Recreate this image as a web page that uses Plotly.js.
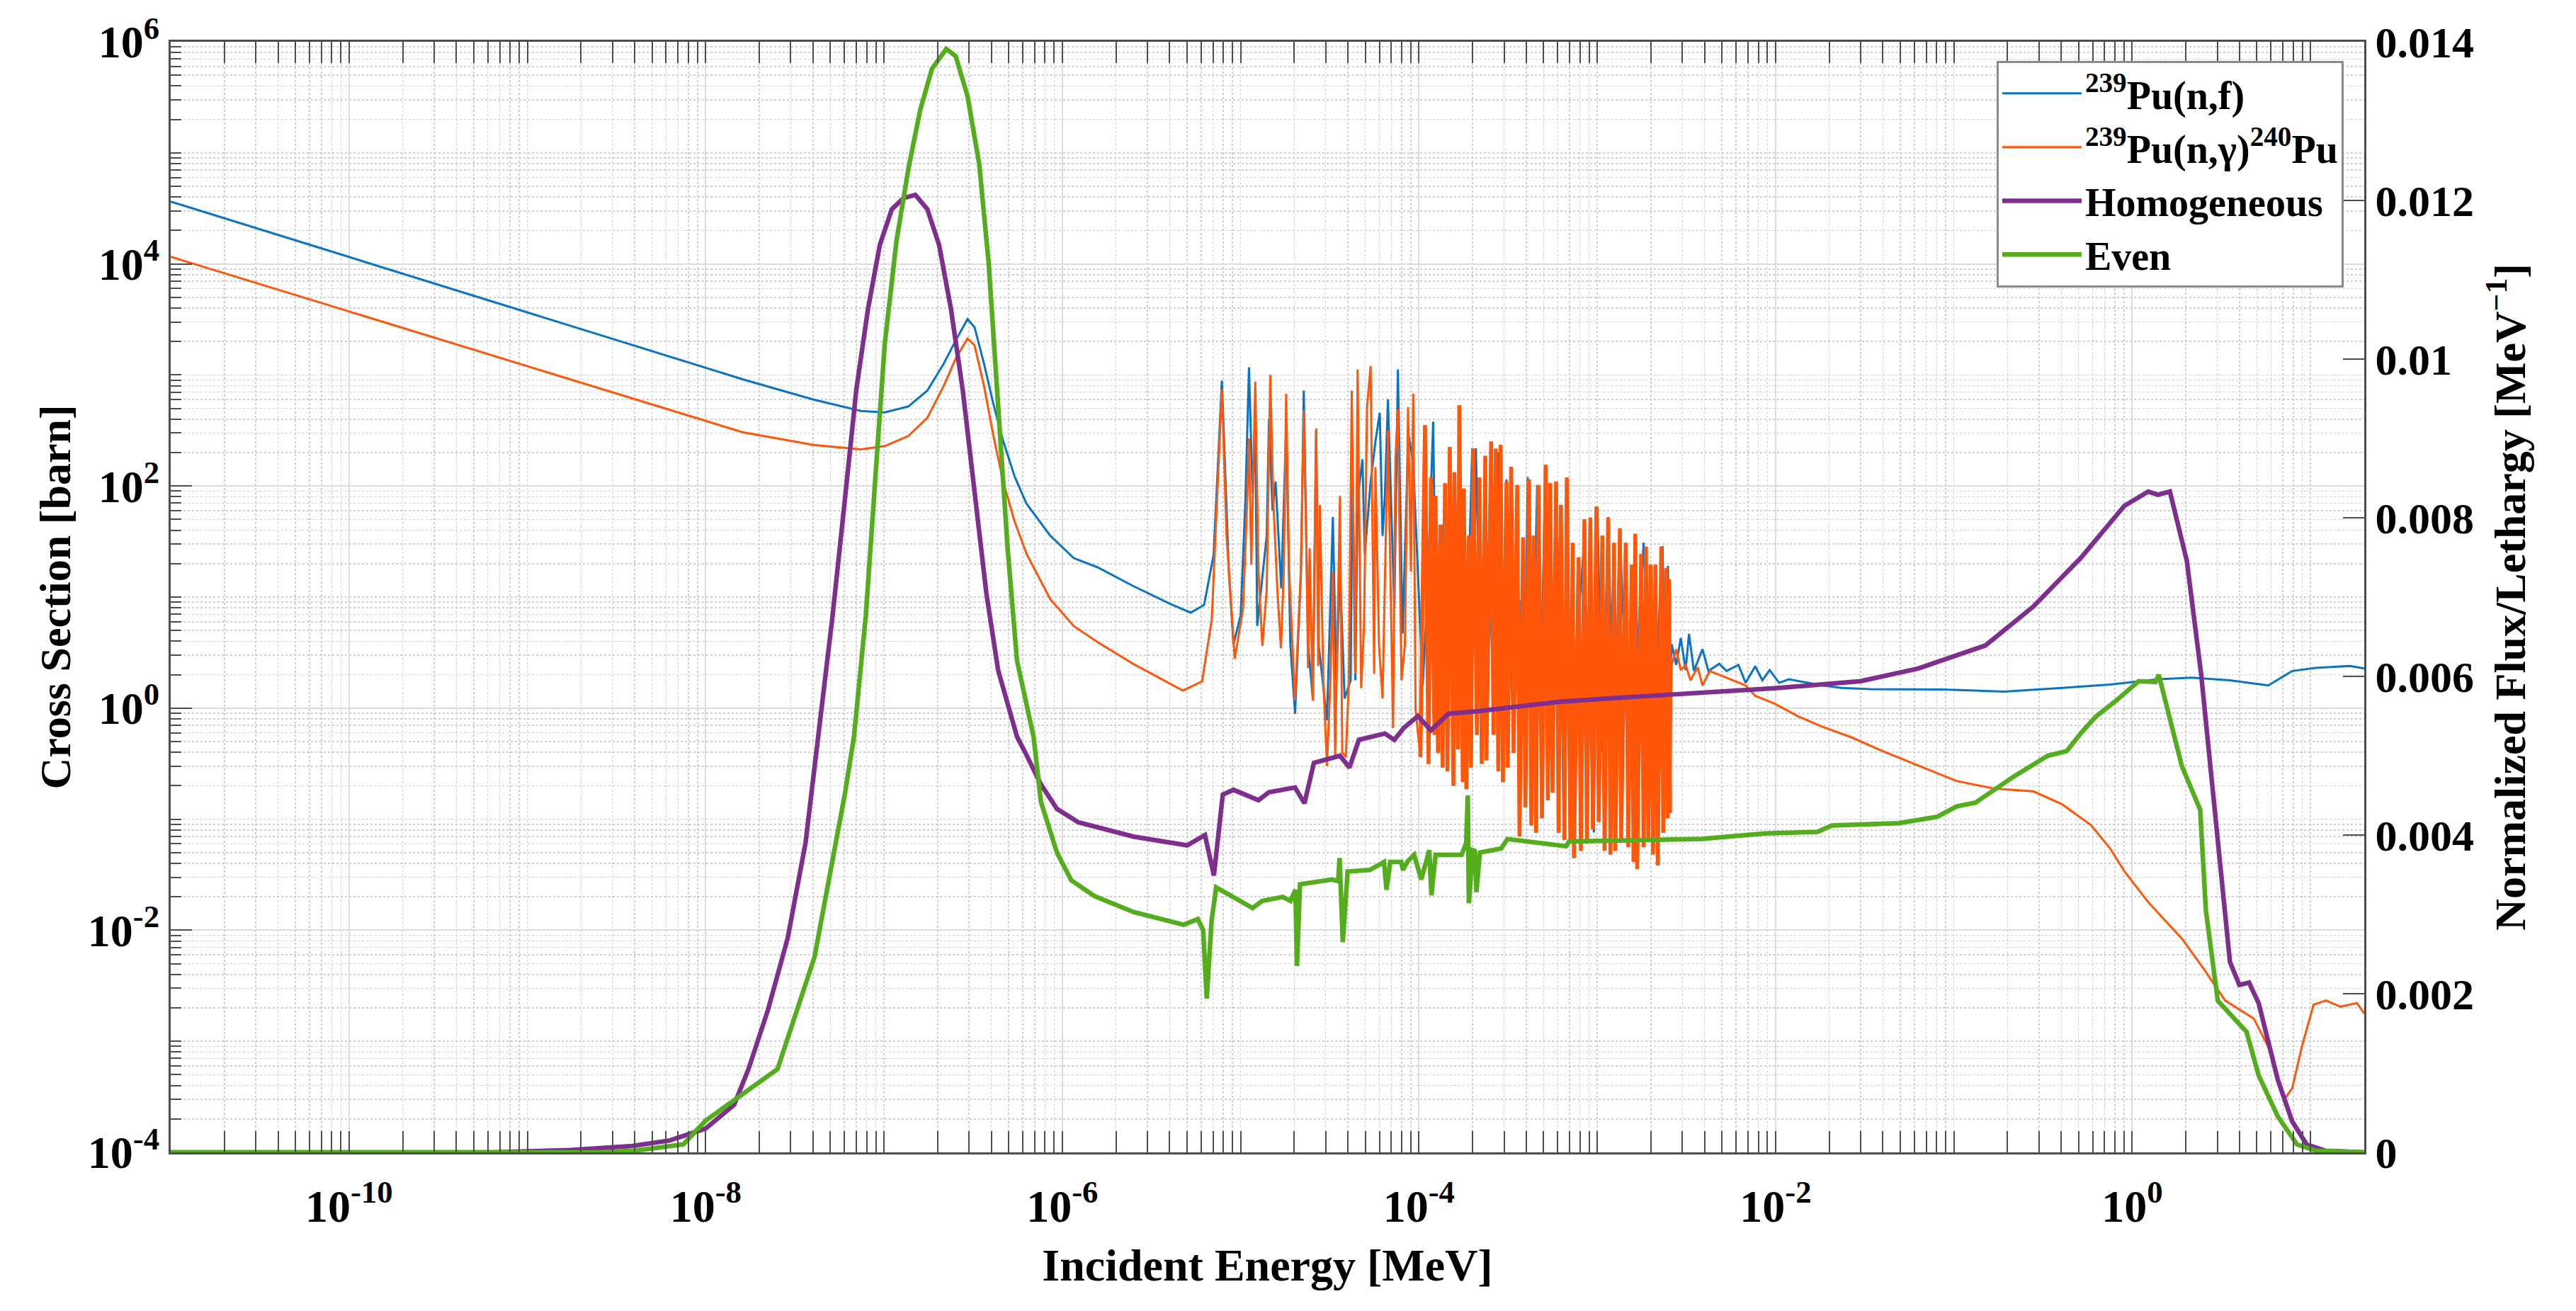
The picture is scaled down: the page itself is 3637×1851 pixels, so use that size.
<!DOCTYPE html>
<html>
<head>
<meta charset="utf-8">
<script src="https://cdn.plot.ly/plotly-3.0.1.min.js"></script>
<style>
html,body{margin:0;padding:0;background:#fff;}
#chart{width:3637px;height:1851px;}
</style>
</head>
<body>
<div id="chart"></div>
<script>
// ---------- 239Pu(n,f) cross section [barn] vs incident energy [MeV] ----------
const fisE = [
1e-11, 1.61e-8, 4.04e-8, 7.43e-8, 1.01e-7, 1.37e-7, 1.75e-7, 2.16e-7, 2.52e-7, 2.94e-7,
3.22e-7, 3.64e-7, 4.11e-7, 4.65e-7, 5.41e-7, 6.30e-7, 8.55e-7, 1.16e-6, 1.57e-6, 2.49e-6,
4.09e-6, 5.25e-6, 6.24e-6, 7.06e-6, 7.85e-6,
8.59e-6, 9.12e-6, 1.00e-5, 1.064e-5, 1.114e-5, 1.167e-5, 1.208e-5, 1.239e-5, 1.297e-5, 1.40e-5,
1.442e-5, 1.51e-5, 1.57e-5, 1.63e-5, 1.69e-5, 1.80e-5, 1.90e-5, 2.02e-5, 2.18e-5, 2.26e-5,
2.39e-5, 2.54e-5, 2.65e-5, 2.74e-5, 3.05e-5, 3.29e-5, 3.44e-5, 3.61e-5, 3.83e-5, 4.14e-5,
4.24e-5, 4.40e-5, 4.53e-5, 4.82e-5, 4.97e-5, 5.36e-5, 5.70e-5, 6.03e-5, 6.25e-5, 6.44e-5,
6.70e-5, 7.28e-5, 7.62e-5, 8.09e-5, 8.47e-5, 8.73e-5, 9.29e-5, 9.86e-5,
1.05e-4, 1.114e-4, 1.202e-4, 1.259e-4, 1.34e-4, 1.371e-4, 1.40e-4, 1.466e-4, 1.581e-4, 1.648e-4,
1.71e-4, 1.816e-4, 1.99e-4, 2.04e-4, 2.085e-4, 2.25e-4, 2.466e-4, 2.62e-4, 2.786e-4, 2.91e-4,
3.097e-4, 3.342e-4, 3.664e-4, 3.89e-4, 4.074e-4, 4.335e-4, 4.603e-4, 4.82e-4, 5.129e-4, 5.61e-4,
6.152e-4, 6.95e-4, 8.356e-4, 8.87e-4, 9.57e-4, 1.002e-3, 1.067e-3, 1.151e-3, 1.242e-3, 1.34e-3,
1.384e-3, 1.538e-3, 1.82e-3, 2.023e-3, 2.323e-3, 2.393e-3, 2.489e-3, 2.547e-3,
2.61e-3, 2.77e-3, 2.94e-3, 3.13e-3, 3.27e-3, 3.48e-3, 3.89e-3, 4.20e-3, 4.83e-3, 5.31e-3,
6.19e-3, 6.79e-3, 7.69e-3, 8.43e-3, 9.26e-3, 1.047e-2, 1.186e-2, 1.52e-2, 1.83e-2, 2.34e-2,
3.40e-2, 8.59e-2, 0.192, 0.405, 0.75, 1.393, 2.15, 3.52, 5.79, 7.89,
10.7, 16.6, 20
];
const fisXS = [
36400, 915, 600, 474, 461, 521, 723, 1259, 2032, 3190,
2692, 1259, 546, 257, 121, 69.2, 35.8, 22.4, 18.6, 12.6,
8.6, 7.24, 8.51, 24.0, 891,
17.0, 3.75, 6.84, 75.9, 1175, 85.1, 339, 5.50, 10.7, 35.5,
398, 60.3, 110, 35.5, 12.0, 339, 3.72, 0.891, 17.0, 724,
3.72, 1.22, 316, 3.72, 0.776, 52.5, 1.78, 17.0, 1.22, 1.78,
158, 1.78, 75.9, 174, 24.5, 110, 251, 457, 35.5, 81.3,
603, 7.94, 1122, 4.68, 52.5, 295, 158, 17.0,
1.585, 10, 380, 1.26, 44.7, 2.0, 102, 0.977, 132, 1.585,
115, 1.0, 219, 6.31, 219, 1.26, 31.6, 1.0, 200, 2.0,
115, 1.0, 9.33, 0.631, 120, 1.0, 102, 1.585, 155, 0.501,
31.6, 0.501, 25.1, 3.16, 0.0759, 64.6, 0.398, 52.5, 0.316, 41.7,
9.33, 0.316, 30.9, 0.316, 28.8, 2.0, 19.1, 1.585,
3.77, 2.45, 4.29, 2.20, 4.67, 2.16, 3.39, 2.16, 2.51, 2.16,
2.45, 1.69, 2.38, 1.78, 2.20, 1.69, 1.82, 1.69, 1.60, 1.52,
1.48, 1.47, 1.41, 1.52, 1.63, 1.82, 1.88, 1.78, 1.60, 2.16,
2.30, 2.40, 2.28
];

// ---------- 239Pu(n,gamma)240Pu cross section [barn] ----------
const capE = [
1e-11, 1.61e-8, 4.04e-8, 7.43e-8, 1.01e-7, 1.37e-7, 1.75e-7, 2.16e-7, 2.52e-7, 2.94e-7,
3.22e-7, 3.64e-7, 4.11e-7, 4.65e-7, 5.41e-7, 6.30e-7, 8.55e-7, 1.16e-6, 1.57e-6, 2.49e-6,
4.75e-6, 6.08e-6, 6.89e-6, 7.85e-6,
8.34e-6, 9.27e-6, 1.032e-5, 1.089e-5, 1.114e-5, 1.148e-5, 1.208e-5, 1.259e-5, 1.324e-5, 1.40e-5,
1.466e-5, 1.524e-5, 1.607e-5, 1.683e-5, 1.746e-5, 1.80e-5, 1.871e-5, 2.018e-5, 2.178e-5, 2.26e-5,
2.35e-5, 2.388e-5, 2.438e-5, 2.541e-5, 2.655e-5, 2.723e-5, 2.78e-5, 2.911e-5, 3.048e-5, 3.19e-5,
3.289e-5, 3.388e-5, 3.606e-5, 3.715e-5, 3.89e-5, 4.046e-5, 4.198e-5, 4.395e-5, 4.529e-5, 4.742e-5,
4.92e-5, 5.117e-5, 5.358e-5, 5.61e-5, 5.70e-5, 5.97e-5, 6.25e-5, 6.44e-5, 6.70e-5, 7.16e-5,
7.38e-5, 7.62e-5, 7.98e-5, 8.34e-5, 8.69e-5, 9.02e-5, 9.29e-5, 9.57e-5, 1.019e-4,
1.081e-4, 1.132e-4, 1.167e-4, 1.222e-4, 1.239e-4, 1.279e-4, 1.318e-4, 1.358e-4, 1.40e-4, 1.445e-4,
1.489e-4, 1.56e-4, 1.581e-4, 1.656e-4, 1.683e-4, 1.762e-4, 1.786e-4, 1.845e-4, 1.901e-4, 1.959e-4,
2.018e-4, 2.113e-4, 2.183e-4, 2.249e-4, 2.355e-4, 2.388e-4, 2.541e-4, 2.618e-4, 2.698e-4, 2.786e-4,
2.871e-4, 2.958e-4, 3.097e-4, 3.148e-4, 3.289e-4, 3.396e-4, 3.556e-4, 3.664e-4, 3.837e-4, 3.954e-4,
4.14e-4, 4.266e-4, 4.395e-4, 4.539e-4, 4.677e-4, 4.898e-4, 5.129e-4, 5.284e-4, 5.445e-4, 5.61e-4,
5.875e-4, 6.067e-4, 6.252e-4, 6.546e-4, 6.745e-4, 7.063e-4, 7.278e-4, 7.396e-4, 7.852e-4, 8.09e-4,
8.472e-4, 8.75e-4, 9.14e-4, 9.44e-4, 9.89e-4, 1.019e-3, 1.067e-3, 1.099e-3, 1.151e-3, 1.186e-3,
1.242e-3, 1.262e-3, 1.34e-3, 1.361e-3, 1.445e-3, 1.493e-3, 1.56e-3, 1.596e-3, 1.633e-3, 1.675e-3,
1.762e-3, 1.82e-3, 1.875e-3, 1.932e-3, 1.991e-3, 2.056e-3, 2.118e-3, 2.183e-3, 2.286e-3, 2.344e-3,
2.432e-3, 2.483e-3, 2.529e-3, 2.56e-3,
2.61e-3, 2.77e-3, 2.94e-3, 3.13e-3, 3.33e-3, 3.66e-3, 3.89e-3, 4.27e-3, 5.31e-3, 6.79e-3,
7.69e-3, 9.86e-3, 1.343e-2, 1.83e-2, 2.65e-2, 3.85e-2, 6.31e-2, 0.1035, 0.170, 0.279,
0.405, 0.586, 0.750, 0.904, 1.233, 1.90, 2.59, 3.32, 4.81, 5.79,
7.19, 7.89, 8.93, 10.4, 12.2, 14.7, 16.6, 18.2, 20
];
const capXS = [
11600, 305, 234, 214, 229, 282, 411, 794, 1396, 2128,
1849, 794, 282, 111, 47.6, 24.5, 9.6, 5.48, 3.95, 2.51,
1.44, 1.74, 6.31, 741,
35.5, 2.78, 7.94, 75.9, 269, 19.5, 871, 17.0, 3.63, 11.5,
1000, 75.9, 11.5, 3.47, 17.0, 676, 17.0, 1.17, 17.0, 479,
17.0, 2.29, 27.5, 1.17, 331, 2.40, 67.6, 1.78, 0.302, 1.78,
17.0, 0.363, 81.3, 0.398, 0.363, 1.78, 724, 2.04, 1122, 1.51,
5.50, 513, 1202, 2.04, 148, 3.72, 1.22, 17.0, 316, 0.661,
174, 490, 1.78, 3.72, 513, 17.0, 676, 0.977, 0.363,
353, 0.315, 119, 0.574, 81.7, 0.394, 44.8, 0.292, 106, 0.270,
225, 0.200, 133, 0.425, 535, 0.216, 94.8, 0.186, 35.7, 0.292,
217, 0.574, 119, 0.315, 187, 0.339, 252, 0.574, 217, 0.270,
234, 0.216, 110, 0.292, 149, 0.394, 102, 0.070, 34.4, 0.128,
115, 0.0877, 35.7, 0.0755, 102, 0.102, 155, 0.148, 106, 0.173,
110, 0.0755, 67.6, 0.0649, 119, 0.0603, 30.8, 0.0446, 22.8, 0.0519,
50.1, 0.0603, 52.0, 0.0813, 65.2, 0.0946, 35.7, 0.0519, 52.0, 0.0481,
30.8, 0.0519, 41.5, 0.0649, 30.8, 0.0558, 19.6, 0.0414, 37.1, 0.0356,
24.5, 0.0558, 28.5, 0.0649, 19.6, 0.0481, 19.6, 0.0384, 28.5, 0.0755,
18.2, 0.102, 14.5, 0.114,
2.45, 3.39, 2.20, 2.45, 1.78, 2.33, 1.60, 2.16, 1.88, 1.60,
1.29, 1.10, 0.841, 0.679, 0.548, 0.420, 0.304, 0.221, 0.188, 0.178,
0.136, 0.0887, 0.0548, 0.0339, 0.0178, 0.00841, 0.0042, 0.00233, 0.0016, 0.00089,
0.000305, 0.000378, 0.00089, 0.00214, 0.00233, 0.00205, 0.00214, 0.00221, 0.00178
];
// the densely packed resolved-resonance band of the capture curve (energy limits, MeV)
const denseBand = [1.0e-4, 2.6e-3];

// ---------- Normalized flux per lethargy [MeV^-1] ----------
const homE = [
1e-11, 6.31e-10, 1.74e-9, 3.89e-9, 6.31e-9, 1e-8, 1.445e-8, 1.738e-8, 2.239e-8, 2.884e-8,
3.631e-8, 4.295e-8, 5.152e-8, 6.01e-8, 7.0e-8, 8.147e-8, 9.48e-8, 1.107e-7, 1.288e-7, 1.5e-7,
1.75e-7, 2.037e-7, 2.371e-7, 2.761e-7, 3.221e-7, 3.75e-7, 4.365e-7, 5.57e-7, 6.166e-7, 7.586e-7,
9.33e-7, 1.23e-6, 2.512e-6, 5.012e-6, 6.31e-6, 7.08e-6,
7.943e-6, 9.12e-6, 1.259e-5, 1.442e-5, 2.018e-5, 2.28e-5, 2.576e-5, 3.606e-5, 4.074e-5, 4.603e-5,
6.442e-5, 7.278e-5, 8.222e-5, 9.863e-5, 1.167e-4, 1.466e-4, 2.113e-4, 6.166e-4, 1.538e-3, 3.846e-3,
9.84e-3, 3.0e-2, 6.31e-2, 0.1503, 0.2786, 0.5176, 0.9036, 1.23, 1.396, 1.626,
2.023, 2.432, 2.931, 3.532, 3.99, 4.519, 5.117, 6.561, 7.889, 9.506,
12.13, 20
];
const homFlux = [
0, 0, 0.00003, 0.00008, 0.00015, 0.0003, 0.0006, 0.00105, 0.0018, 0.0027,
0.0039, 0.00524, 0.00677, 0.00819, 0.00962, 0.01064, 0.01144, 0.01189, 0.01203, 0.01207,
0.01189, 0.01144, 0.01064, 0.00962, 0.0083, 0.00705, 0.00608, 0.00524, 0.00505, 0.00464,
0.00433, 0.00416, 0.00398, 0.00387, 0.0040, 0.00349,
0.00451, 0.00457, 0.00444, 0.00454, 0.0046, 0.0044, 0.00491, 0.0050, 0.00485, 0.0052,
0.00528, 0.0052, 0.00535, 0.0055, 0.00532, 0.00553, 0.00556, 0.00568, 0.00574, 0.00579,
0.00585, 0.00594, 0.0061, 0.00639, 0.00688, 0.0075, 0.00815, 0.00833, 0.00829, 0.00833,
0.00746, 0.00604, 0.00422, 0.0024, 0.00211, 0.00214, 0.00188, 0.00091, 0.00039, 0.0001,
0.00002, 0
];
const evenE = [
1e-11, 2.512e-9, 3.981e-9, 7.499e-9, 1e-8, 2.529e-8, 4.074e-8, 6.026e-8, 6.79e-8, 7.91e-8,
8.93e-8, 1.009e-7, 1.175e-7, 1.371e-7, 1.596e-7, 1.858e-7, 2.234e-7, 2.523e-7, 2.938e-7, 3.42e-7,
3.864e-7, 4.365e-7, 4.932e-7, 5.57e-7, 6.9e-7, 7.586e-7, 9.333e-7,
1.122e-6, 1.514e-6, 2.512e-6, 4.786e-6, 5.754e-6, 6.166e-6, 6.457e-6, 6.871e-6, 7.295e-6, 1.167e-5,
1.321e-5, 1.722e-5, 1.905e-5, 2.028e-5, 2.07e-5, 2.153e-5, 3.243e-5, 3.524e-5, 3.589e-5, 3.741e-5,
3.981e-5, 5.297e-5, 6.368e-5, 6.577e-5, 6.902e-5, 7.962e-5, 8.128e-5, 8.650e-5, 9.397e-5, 1.030e-4,
1.143e-4, 1.175e-4, 1.239e-4, 1.734e-4, 1.841e-4, 1.879e-4, 1.905e-4, 2.0e-4, 2.056e-4, 2.099e-4,
2.198e-4, 2.891e-4, 3.133e-4, 6.683e-4, 6.95e-4, 3.837e-3, 8.71e-3, 1.718e-2, 2.07e-2, 4.92e-2,
8.07e-2, 0.1035, 0.1324, 0.2173, 0.3357, 0.4295, 0.5176, 0.6223, 0.798, 1.086,
1.352, 1.409, 1.897, 2.404, 2.588, 3.02, 4.375, 5.117, 6.561, 8.395,
10.76, 20
];
const evenFlux = [
0, 0, 0.00002, 0.0001, 0.0004, 0.00105, 0.00246, 0.00451, 0.00524, 0.00677,
0.00848, 0.01018, 0.01149, 0.0124, 0.01314, 0.01366, 0.01391, 0.01382, 0.01332, 0.01246,
0.01121, 0.00933, 0.00762, 0.0062, 0.00524, 0.00442, 0.00378,
0.00343, 0.00323, 0.00303, 0.00287, 0.00294, 0.0028, 0.00194, 0.00292, 0.00334, 0.00308,
0.00317, 0.00322, 0.00317, 0.00331, 0.00235, 0.00338, 0.00344, 0.00342, 0.00371, 0.00265,
0.00354, 0.00356, 0.00366, 0.00331, 0.00366, 0.00366, 0.00356, 0.00367, 0.00375, 0.00344,
0.00381, 0.00324, 0.00375, 0.00375, 0.0039, 0.0045, 0.00314, 0.00381, 0.0038, 0.00328,
0.00378, 0.00383, 0.00395, 0.00386, 0.00392, 0.00395, 0.00402, 0.00404, 0.00412, 0.00415,
0.00423, 0.00436, 0.00441, 0.00474, 0.0050, 0.00506, 0.00529, 0.00549, 0.00568, 0.00594,
0.00593, 0.00602, 0.00487, 0.00432, 0.00305, 0.00191, 0.00152, 0.00097, 0.00045, 0.0001,
0.00002, 0
];

// ---------- tick labels ----------
const xTickVals = [1e-10, 1e-8, 1e-6, 1e-4, 1e-2, 1];
const xTickText = ['10<sup>-10</sup>', '10<sup>-8</sup>', '10<sup>-6</sup>', '10<sup>-4</sup>', '10<sup>-2</sup>', '10<sup>0</sup>'];
const yTickVals = [1e-4, 1e-2, 1, 1e2, 1e4, 1e6];
const yTickText = ['10<sup>-4</sup>', '10<sup>-2</sup>', '10<sup>0</sup>', '10<sup>2</sup>', '10<sup>4</sup>', '10<sup>6</sup>'];
const fluxTickVals = [0, 0.002, 0.004, 0.006, 0.008, 0.01, 0.012, 0.014];
const fluxTickText = ['0', '0.002', '0.004', '0.006', '0.008', '0.01', '0.012', '0.014'];

const seriesNames = ['<sup>239</sup>Pu(n,f)', '<sup>239</sup>Pu(n,\u03b3)<sup>240</sup>Pu', 'Homogeneous', 'Even'];
const seriesColors = ['#0a74c4', '#ff560a', '#7e2f8e', '#53ad1c'];

const FONT = 'Liberation Serif, Times New Roman, serif';
const axisColor = '#4d4d4d';

// subset of the capture data lying in the dense band (drawn again slightly thicker)
const bandE = [], bandXS = [];
capE.forEach((e, i) => { if (e >= denseBand[0] && e <= denseBand[1]) { bandE.push(e); bandXS.push(capXS[i]); } });

const traces = [
  {x: fisE, y: fisXS, name: seriesNames[0], type: 'scatter', mode: 'lines',
   line: {color: seriesColors[0], width: 3}, xaxis: 'x', yaxis: 'y', legendgroup: 'f'},
  {x: capE, y: capXS, name: seriesNames[1], type: 'scatter', mode: 'lines',
   line: {color: seriesColors[1], width: 3}, xaxis: 'x', yaxis: 'y', legendgroup: 'c'},
  {x: bandE, y: bandXS, name: seriesNames[1], type: 'scatter', mode: 'lines', showlegend: false,
   line: {color: seriesColors[1], width: 5.5}, xaxis: 'x', yaxis: 'y', legendgroup: 'c'},
  {x: homE, y: homFlux, name: seriesNames[2], type: 'scatter', mode: 'lines',
   line: {color: seriesColors[2], width: 6.5}, xaxis: 'x', yaxis: 'y2'},
  {x: evenE, y: evenFlux, name: seriesNames[3], type: 'scatter', mode: 'lines',
   line: {color: seriesColors[3], width: 6.5}, xaxis: 'x', yaxis: 'y2'}
];

const minorCommon = {
  dtick: 'D1', ticks: 'inside', ticklen: 15, tickwidth: 2, tickcolor: axisColor,
  showgrid: true, gridcolor: '#cfcfcf', griddash: 'dot', gridwidth: 1.5
};

const layout = {
  width: 3637, height: 1851,
  margin: {l: 241, r: 299, t: 59, b: 224, pad: 0},
  paper_bgcolor: '#ffffff', plot_bgcolor: '#ffffff',
  font: {family: FONT, size: 60, color: '#000', weight: 'bold'},
  showlegend: true,
  hovermode: false,
  xaxis: {
    type: 'log', range: [-11, Math.log10(20)],
    tickmode: 'array', tickvals: xTickVals, ticktext: xTickText,
    ticks: 'inside', ticklen: 30, tickwidth: 2, tickcolor: axisColor,
    ticklabelstandoff: 18,
    showline: true, linecolor: axisColor, linewidth: 3, mirror: 'allticks',
    showgrid: true, gridcolor: '#dcdcdc', gridwidth: 2,
    zeroline: false,
    tickfont: {family: FONT, size: 64, color: '#000', weight: 'bold'},
    minor: minorCommon,
    title: {text: 'Incident Energy [MeV]', font: {family: FONT, size: 64, color: '#000', weight: 'bold'}, standoff: 26}
  },
  yaxis: {
    type: 'log', range: [-4, 6],
    tickmode: 'array', tickvals: yTickVals, ticktext: yTickText,
    ticks: 'inside', ticklen: 30, tickwidth: 2, tickcolor: axisColor,
    showline: true, linecolor: axisColor, linewidth: 3, mirror: false,
    showgrid: true, gridcolor: '#dcdcdc', gridwidth: 2,
    zeroline: false,
    tickfont: {family: FONT, size: 64, color: '#000', weight: 'bold'},
    minor: minorCommon,
    title: {text: 'Cross Section [barn]', font: {family: FONT, size: 62, color: '#000', weight: 'bold'}, standoff: 5}
  },
  yaxis2: {
    overlaying: 'y', side: 'right', range: [0, 0.014],
    tickmode: 'array', tickvals: fluxTickVals, ticktext: fluxTickText,
    ticks: 'inside', ticklen: 30, tickwidth: 2, tickcolor: axisColor,
    showline: true, linecolor: axisColor, linewidth: 3,
    showgrid: false, zeroline: false,
    tickfont: {family: FONT, size: 62, color: '#000', weight: 'bold'},
    title: {text: 'Normalized Flux/Lethargy [MeV<sup>\u22121</sup>]', font: {family: FONT, size: 62, color: '#000', weight: 'bold'}, standoff: 30}
  },
  legend: {
    x: 0.9906, y: 0.9828, xanchor: 'right', yanchor: 'top',
    bgcolor: '#ffffff', bordercolor: '#8a8a8a', borderwidth: 3,
    font: {family: FONT, size: 56, color: '#000', weight: 'bold'},
    itemwidth: 112, tracegroupgap: 0
  }
};

Plotly.newPlot('chart', traces, layout, {displayModeBar: false, staticPlot: true});
</script>
</body>
</html>
